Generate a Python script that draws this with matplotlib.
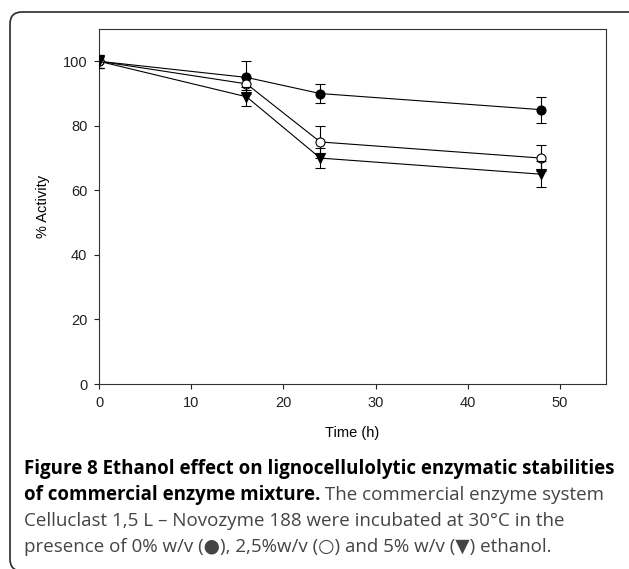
import numpy as np
import matplotlib.pyplot as plt
from matplotlib.patches import FancyBboxPatch

# data
time = [0, 16, 24, 48]
act_0 = [100, 95, 90, 85]
err_0 = [2, 5, 3, 4]
act_25 = [100, 93, 75, 70]
err_25 = [2, 2, 5, 4]
act_5 = [100, 89, 70, 65]
err_5 = [2, 3, 3, 4]

xticks = [0, 10, 20, 30, 40, 50]
yticks = [0, 20, 40, 60, 80, 100]

plt.rcParams['font.family'] = ['Liberation Sans', 'DejaVu Sans']

W, H = 629, 569
fig = plt.figure(figsize=(W / 100, H / 100), dpi=100)

# rounded frame around figure + caption (bottom edge falls just off the image)
box = FancyBboxPatch((10, -2), 640, H - 12 + 2, boxstyle="round,pad=0,rounding_size=12",
                     transform=None, fill=False, edgecolor='#2a2a2a', linewidth=1.2)
fig.add_artist(box)

ax = fig.add_axes([99 / W, 1 - 384 / H, (606 - 99) / W, (384 - 29) / H])

style = dict(color='black', linewidth=0.8, elinewidth=0.8, capsize=3.8, capthick=0.8,
             markersize=6.5, markeredgecolor='black', markeredgewidth=0.8)
ax.errorbar(time, act_0, yerr=err_0, marker='o', markerfacecolor='black', zorder=3, **style)
ax.errorbar(time, act_25, yerr=err_25, marker='o', markerfacecolor='white', zorder=4, **style)
ax.errorbar(time, act_5, yerr=err_5, marker='v', markerfacecolor='black', zorder=5, **style)

ax.set_xlim(0, 55)
ax.set_ylim(0, 110)
ax.set_xticks(xticks)
ax.set_yticks(yticks)
ax.tick_params(direction='out', length=3.8, width=0.8, labelsize=10.5, pad=4.5, colors='#222222')
for s in ax.spines.values():
    s.set_linewidth(0.8)
    s.set_color('#333333')
ax.set_xlabel("Time (h)", fontsize=10.5, labelpad=12)
ax.set_ylabel("% Activity", fontsize=10.5, labelpad=9)

# caption
cap_font = ['Open Sans', 'DejaVu Sans']
fs = 13.5
x0 = 24 / W
ys = [469, 495, 521, 547]
fig.text(x0, 1 - ys[0] / H, "Figure 8 Ethanol effect on lignocellulolytic enzymatic stabilities",
         family=cap_font, fontsize=fs, fontweight='bold', va='center', color='black')
t_bold = fig.text(x0, 1 - ys[1] / H, "of commercial enzyme mixture.",
                  family=cap_font, fontsize=fs, fontweight='bold', va='center', color='black')
r = fig.canvas.get_renderer()
bb = t_bold.get_window_extent(renderer=r)
fig.text(bb.x1 / W, 1 - ys[1] / H, " The commercial enzyme system",
         family=cap_font, fontsize=fs, va='center', color='#444444')
fig.text(x0, 1 - ys[2] / H, "Celluclast 1,5 L \u2013 Novozyme 188 were incubated at 30\u00b0C in the",
         family=cap_font, fontsize=fs, va='center', color='#444444')
fig.text(x0, 1 - ys[3] / H, "presence of 0% w/v (\u25cf), 2,5%w/v (\u25cb) and 5% w/v (\u25bc) ethanol.",
         family=cap_font, fontsize=fs, va='center', color='#444444')

fig.savefig("out.png", dpi=100)
